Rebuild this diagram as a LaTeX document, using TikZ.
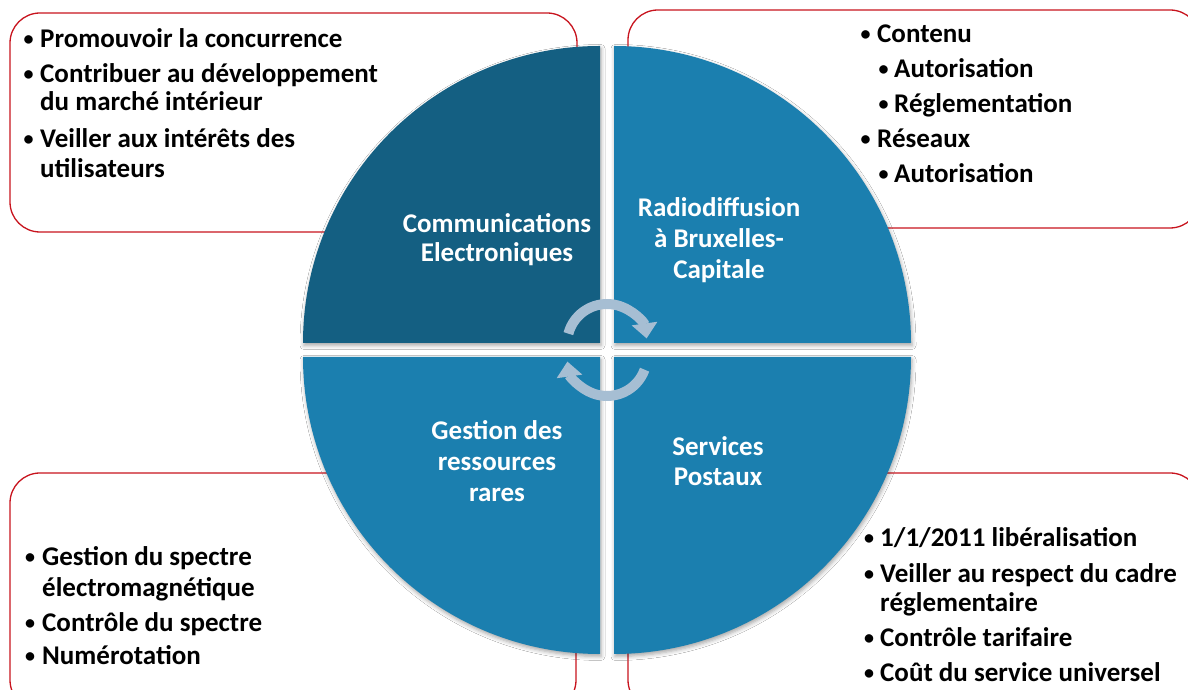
\documentclass[tikz,border=0pt]{standalone}
\usepackage{fontspec}
\setmainfont{Carlito}
\usetikzlibrary{arrows.meta,shadows.blur}
\definecolor{darkq}{RGB}{20,95,130}
\definecolor{lightq}{RGB}{27,127,175}
\definecolor{boxred}{RGB}{200,20,30}
\definecolor{arrc}{RGB}{166,190,211}
\tikzset{
  txt/.style={anchor=base west, inner sep=0pt, text=black, font=\fontsize{27}{30}\selectfont\bfseries},
  bul/.style={anchor=base, inner sep=0pt, text=black, font=\fontsize{20}{20}\selectfont\bfseries},
  lab/.style={anchor=base, inner sep=0pt, text=white, font=\fontsize{27}{30}\selectfont\bfseries},
  infobox/.style={draw=boxred, line width=1.3pt, rounded corners=30pt, fill=white},
  quad/.style={blur shadow={shadow xshift=1pt, shadow yshift=-2.5pt, shadow blur radius=4pt, shadow opacity=35}},
  cyc/.style={draw=arrc, line width=10pt, -{Triangle[width=25pt,length=15pt]}},
}
\newcommand{\bl}{\raisebox{2.5pt}{•}}
\begin{document}
\begin{tikzpicture}[x=1pt,y=1pt]
\useasboundingbox (0,0) rectangle (1188,690);
\clip (0,0) rectangle (1188,690);
\fill[white] (0,0) rectangle (1188,690);
% info boxes
\draw[infobox] (10,458) rectangle (577,677);
\draw[infobox] (628,462) rectangle (1200,680);
\draw[infobox] (10,-20) rectangle (576,217);
\draw[infobox] (628,-20) rectangle (1200,217);
% quadrants
\fill[darkq,quad] (600,347) -- (303,347) arc[start angle=180,end angle=90,radius=297] -- cycle;
\fill[lightq,quad] (614,347) -- (614,644) arc[start angle=90,end angle=0,radius=297] -- cycle;
\fill[lightq,quad] (600,333) -- (303,333) arc[start angle=180,end angle=270,radius=297] -- cycle;
\fill[lightq,quad] (614,333) -- (911,333) arc[start angle=0,end angle=-90,radius=297] -- cycle;
% cycle arrows
\coordinate (ctop) at (607,346);
\coordinate (cbot) at (607,334);
\draw[cyc] ([shift={(165:40)}]ctop) arc[start angle=165,end angle=8,radius=40];
\draw[cyc] ([shift={(-20:40)}]cbot) arc[start angle=-20,end angle=-172,radius=40];
% quadrant labels
\node[lab] (ce1) at (497,457) {Communications};
\node[lab] (ce2) at (497,428) {Electroniques};
\node[lab] (rb1) at (719,473) {Radiodiffusion};
\node[lab] (rb2) at (719,442) {à Bruxelles-};
\node[lab] (rb3) at (719,411) {Capitale};
\node[lab] (gr1) at (497,250) {Gestion des};
\node[lab] (gr2) at (497,219) {ressources};
\node[lab] (gr3) at (497,188) {rares};
\node[lab] (sp1) at (718,234) {Services};
\node[lab] (sp2) at (718,204) {Postaux};
% top-left list
\node[bul] (tlb1) at (28.5,642) {\bl};
\node[txt] (tl1) at (40,642) {Promouvoir la concurrence};
\node[bul] (tlb2) at (28.5,607) {\bl};
\node[txt] (tl2) at (40,607) {Contribuer au développement};
\node[txt] (tl3) at (40,579) {du marché intérieur};
\node[bul] (tlb3) at (28.5,542) {\bl};
\node[txt] (tl4) at (40,542) {Veiller aux intérêts des};
\node[txt] (tl5) at (40,512) {utilisateurs};
% top-right list
\node[bul] (trb1) at (865.5,647) {\bl};
\node[txt] (tr1) at (877,647) {Contenu};
\node[bul] (trb2) at (883.5,612) {\bl};
\node[txt] (tr2) at (894,612) {Autorisation};
\node[bul] (trb3) at (883.5,577) {\bl};
\node[txt] (tr3) at (894,577) {Réglementation};
\node[bul] (trb4) at (865.5,542) {\bl};
\node[txt] (tr4) at (877,542) {Réseaux};
\node[bul] (trb5) at (883.5,507) {\bl};
\node[txt] (tr5) at (894,507) {Autorisation};
% bottom-left list
\node[bul] (blb1) at (30,124) {\bl};
\node[txt] (bl1) at (42,124) {Gestion du spectre};
\node[txt] (bl2) at (42,93) {électromagnétique};
\node[bul] (blb2) at (30,58) {\bl};
\node[txt] (bl3) at (42,58) {Contrôle du spectre};
\node[bul] (blb3) at (30,25) {\bl};
\node[txt] (bl4) at (42,25) {Numérotation};
% bottom-right list
\node[bul] (brb1) at (869,143) {\bl};
\node[txt] (br1) at (880,143) {1/1/2011 libéralisation};
\node[bul] (brb2) at (869,107) {\bl};
\node[txt] (br2) at (880,107) {Veiller au respect du cadre};
\node[txt] (br3) at (880,78) {réglementaire};
\node[bul] (brb3) at (869,43) {\bl};
\node[txt] (br4) at (880,43) {Contrôle tarifaire};
\node[bul] (brb4) at (869,8) {\bl};
\node[txt] (br5) at (880,8) {Coût du service universel};
\end{tikzpicture}
\end{document}
